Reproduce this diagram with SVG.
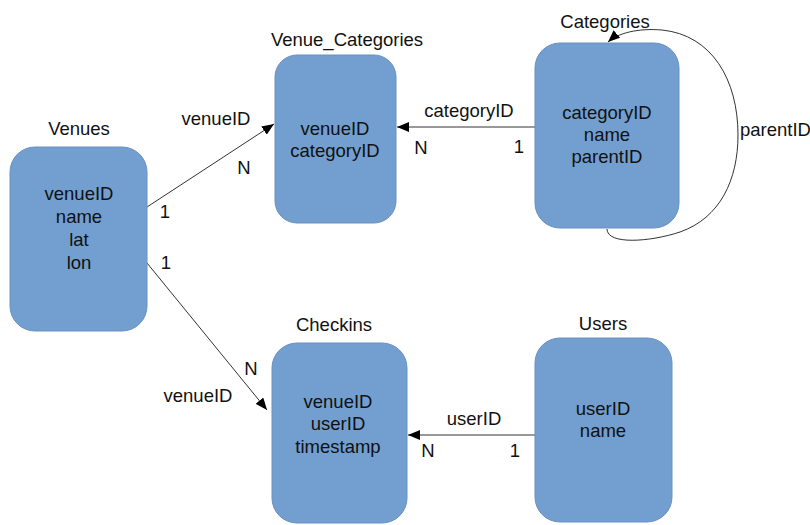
<svg xmlns="http://www.w3.org/2000/svg" width="810" height="525" viewBox="0 0 810 525">
<defs>
<marker id="arr" viewBox="0 0 12 10" refX="12" refY="5" markerWidth="12" markerHeight="10" markerUnits="userSpaceOnUse" orient="auto">
<path d="M0,0 L12,5 L0,10 Z" fill="#000"/>
</marker>
</defs>
<style>
.box{fill:#729fcf;stroke:#6890c2;stroke-width:1}
text{font-family:"Liberation Sans",Arial,sans-serif;font-size:18.5px;fill:#111}
.c{text-anchor:middle}
.ln{fill:none;stroke:#333;stroke-width:1;marker-end:url(#arr)}
</style>
<rect width="810" height="525" fill="#fff"/>
<g id="connectors">
<line class="ln" x1="147" y1="207" x2="274" y2="124"/>
<line class="ln" x1="535" y1="127" x2="397" y2="127"/>
<line class="ln" x1="147" y1="263" x2="267" y2="410"/>
<line class="ln" x1="535" y1="435" x2="408" y2="435"/>
<path class="ln" d="M607,229 C607,245 650,242 680,232 C720,218 738,180 738,135 C738,80 712,35 662,30 C638,28 618,33 608,42"/>
<text class="c" x="216" y="125">venueID</text>
<text class="c" x="244" y="174">N</text>
<text class="c" x="165" y="218">1</text>
<text class="c" x="469" y="117">categoryID</text>
<text class="c" x="421" y="154">N</text>
<text class="c" x="519" y="153">1</text>
<text class="c" x="166" y="269">1</text>
<text class="c" x="251" y="375">N</text>
<text class="c" x="198" y="402">venueID</text>
<text class="c" x="474" y="425">userID</text>
<text class="c" x="428" y="457">N</text>
<text class="c" x="515" y="457">1</text>
<text x="740" y="136">parentID</text>
</g>
<g id="venues">
<text class="c" x="79" y="135">Venues</text>
<rect class="box" x="10" y="147" width="137" height="184" rx="25"/>
<text class="c" x="79" y="200">venueID</text>
<text class="c" x="79" y="223">name</text>
<text class="c" x="79" y="246">lat</text>
<text class="c" x="79" y="269">lon</text>
</g>
<g id="venue_categories">
<text class="c" x="347" y="46">Venue_Categories</text>
<rect class="box" x="275" y="55" width="121" height="168" rx="22"/>
<text class="c" x="335" y="135">venueID</text>
<text class="c" x="335" y="157">categoryID</text>
</g>
<g id="categories">
<text class="c" x="605" y="28">Categories</text>
<rect class="box" x="535" y="43" width="144" height="185" rx="25"/>
<text class="c" x="607" y="119">categoryID</text>
<text class="c" x="607" y="141">name</text>
<text class="c" x="607" y="163">parentID</text>
</g>
<g id="checkins">
<text class="c" x="334" y="331">Checkins</text>
<rect class="box" x="272" y="343" width="135" height="180" rx="25"/>
<text class="c" x="338" y="408">venueID</text>
<text class="c" x="338" y="430">userID</text>
<text class="c" x="338" y="453">timestamp</text>
</g>
<g id="users">
<text class="c" x="603" y="330">Users</text>
<rect class="box" x="535" y="338" width="137" height="184" rx="25"/>
<text class="c" x="603" y="415">userID</text>
<text class="c" x="603" y="437">name</text>
</g>
</svg>
